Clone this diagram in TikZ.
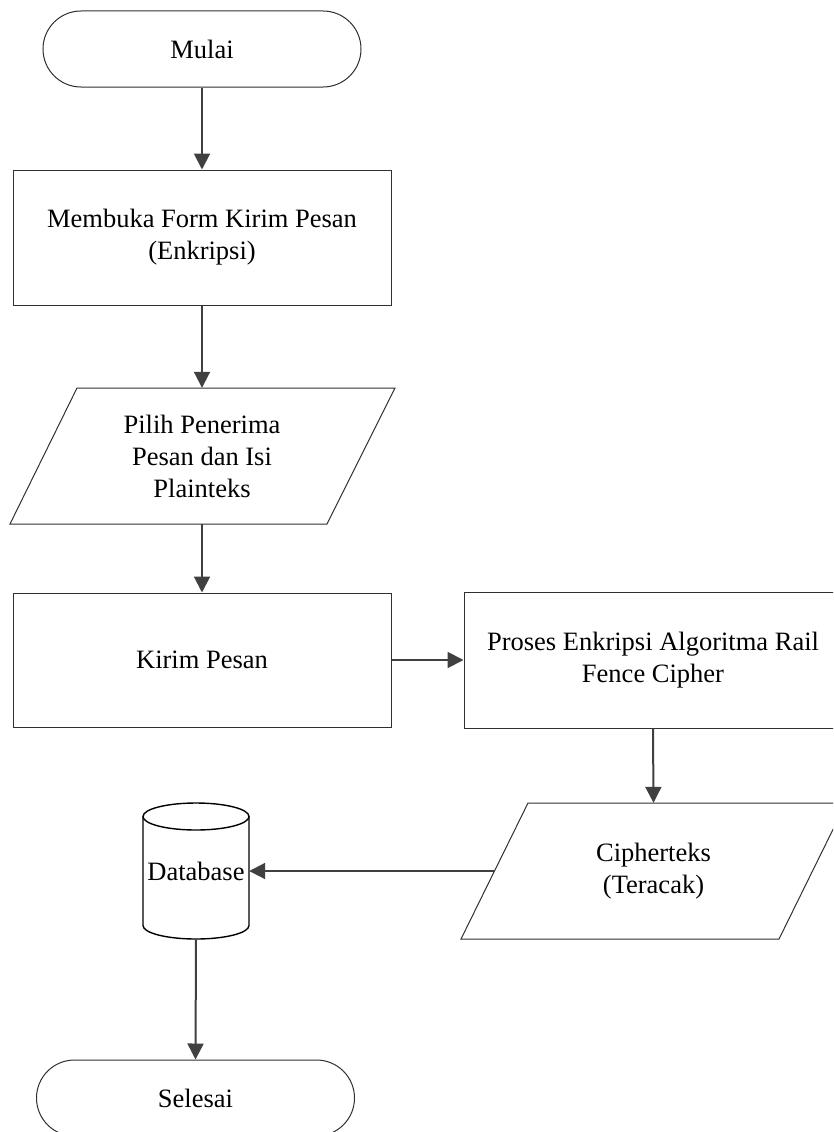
\documentclass[tikz,border=0pt]{standalone}
\usepackage{fontspec}
\setmainfont{Liberation Serif}
\usetikzlibrary{arrows.meta}
\definecolor{arrowgray}{HTML}{404040}
\definecolor{edgegray}{HTML}{303030}
\begin{document}
\begin{tikzpicture}[x=1pt,y=-1pt,
  lbl/.style={font=\fontsize{26.5}{32}\selectfont, align=center, inner sep=0pt, text=black},
  shapeedge/.style={draw=edgegray, line width=1pt},
  termbox/.style={lbl, shapeedge, rectangle, rounded corners=38pt, minimum width=318pt, minimum height=76pt},
  procbox/.style={lbl, shapeedge, rectangle, minimum width=378pt, minimum height=135pt},
  iobox/.style={lbl, minimum width=318pt, minimum height=136pt},
  flow/.style={draw=arrowgray, line width=2pt, -{Triangle[length=16pt,width=16pt]}}
]
\useasboundingbox (0,0) rectangle (833,1132);
\clip (0,0) rectangle (833,1132);

% nodes
\node[termbox] (mulai) at (202,49) {Mulai};
\node[procbox] (buka) at (202,237.5) {Membuka Form Kirim Pesan\\(Enkripsi)};
\node[iobox] (pilih) at (202,456) {Pilih Penerima\\Pesan dan Isi\\Plainteks};
\draw[shapeedge] (77,388) -- (395,388) -- (327,524) -- (10,524) -- cycle;
\node[procbox, minimum height=134pt] (kirim) at (202,660) {Kirim Pesan};
\node[procbox, minimum height=136pt] (proses) at (653,660) {Proses Enkripsi Algoritma Rail\\Fence Cipher};
\node[iobox] (cipher) at (653.5,871) {Cipherteks\\(Teracak)};
\draw[shapeedge] (528,803) -- (846,803) -- (779,939) -- (461,939) -- cycle;

% database cylinder
\node[lbl, minimum width=106pt, minimum height=136pt] (db) at (196,871) {Database};
\draw[draw=black, line width=1.4pt] (143,816.5) -- (143,925.5)
  .. controls (143,932.96) and (166.7,939) .. (196,939)
  .. controls (225.3,939) and (249,932.96) .. (249,925.5) -- (249,816.5);
\draw[draw=black, line width=1.4pt] (196,816.5) ellipse [x radius=53pt, y radius=13.5pt];

\node[termbox] (selesai) at (195.5,1098) {Selesai};

% connectors
\draw[flow] (mulai.south) -- (buka.north);
\draw[flow] (buka.south) -- (pilih.north);
\draw[flow] (pilih.south) -- (kirim.north);
\draw[flow] (kirim.east) -- (proses.west);
\draw[flow] (proses.south) -- (cipher.north);
\draw[flow] (cipher.west) -- (db.east);
\draw[flow] (db.south) -- (selesai.north);
\end{tikzpicture}
\end{document}
